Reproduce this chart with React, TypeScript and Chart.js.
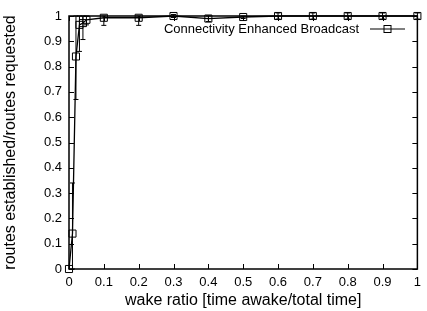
import React, { useEffect, useRef } from 'react';
import { Chart, registerables } from 'chart.js';

Chart.register(...registerables);

const wakeRatio = [0, 0.01, 0.02, 0.03, 0.04, 0.05, 0.1, 0.2, 0.3, 0.4, 0.5, 0.6, 0.7, 0.8, 0.9, 1];
const routesRatio = [0, 0.14, 0.84, 0.965, 0.972, 0.985, 0.993, 0.993, 1, 0.99, 0.996, 1, 1, 1, 1, 1];
const errLow = [0, 0.14, 0.17, 0.105, 0.065, 0.02, 0.03, 0.03, 0.006, 0.012, 0.006, 0.012, 0.012, 0.012, 0.012, 0.012];
const errHigh = [0, 0.2, 0.16, 0.035, 0.028, 0.015, 0.007, 0.007, 0.006, 0.01, 0.004, 0.012, 0.012, 0.012, 0.012, 0.012];

const xTicks = [0, 0.1, 0.2, 0.3, 0.4, 0.5, 0.6, 0.7, 0.8, 0.9, 1];
const xTickLabels = ['0', '0.1', '0.2', '0.3', '0.4', '0.5', '0.6', '0.7', '0.8', '0.9', '1'];
const yTicks = [0, 0.1, 0.2, 0.3, 0.4, 0.5, 0.6, 0.7, 0.8, 0.9, 1];
const yTickLabels = ['0', '0.1', '0.2', '0.3', '0.4', '0.5', '0.6', '0.7', '0.8', '0.9', '1'];

const seriesLabel = 'Connectivity Enhanced Broadcast';
const xTitle = 'wake ratio [time awake/total time]';
const yTitle = 'routes established/routes requested';

const FONT = '"Liberation Sans", Arial, Helvetica, sans-serif';

const frameAndTicks = {
  id: 'frameAndTicks',
  afterDraw(chart: any) {
    const { ctx, chartArea: a, scales } = chart;
    ctx.save();
    ctx.strokeStyle = '#000';
    ctx.lineWidth = 1;
    const tl = 5;
    ctx.beginPath();
    for (const v of xTicks) {
      const px = Math.round(scales.x.getPixelForValue(v)) + 0.5;
      ctx.moveTo(px, a.bottom);
      ctx.lineTo(px, a.bottom - tl);
      ctx.moveTo(px, a.top);
      ctx.lineTo(px, a.top + tl);
    }
    for (const v of yTicks) {
      const py = Math.round(scales.y.getPixelForValue(v)) + 0.5;
      ctx.moveTo(a.left, py);
      ctx.lineTo(a.left + tl, py);
      ctx.moveTo(a.right, py);
      ctx.lineTo(a.right - tl, py);
    }
    ctx.stroke();
    ctx.lineWidth = 1.5;
    ctx.strokeRect(a.left, a.top, a.right - a.left, a.bottom - a.top);
    ctx.restore();
  },
};

const errorBars = {
  id: 'errorBars',
  afterDatasetsDraw(chart: any) {
    const { ctx, scales } = chart;
    ctx.save();
    ctx.strokeStyle = '#000';
    ctx.lineWidth = 1;
    const cap = 2.5;
    ctx.beginPath();
    wakeRatio.forEach((x, i) => {
      const px = scales.x.getPixelForValue(x);
      const lo = scales.y.getPixelForValue(routesRatio[i] - errLow[i]);
      const hi = scales.y.getPixelForValue(routesRatio[i] + errHigh[i]);
      if (Math.abs(lo - hi) < 0.5) return;
      ctx.moveTo(px, lo);
      ctx.lineTo(px, hi);
      ctx.moveTo(px - cap, lo);
      ctx.lineTo(px + cap, lo);
      ctx.moveTo(px - cap, hi);
      ctx.lineTo(px + cap, hi);
    });
    ctx.stroke();
    ctx.restore();
  },
};

const keyBox = {
  id: 'keyBox',
  afterDraw(chart: any) {
    const { ctx } = chart;
    const label = chart.data.datasets[0].label;
    const y = 29;
    ctx.save();
    ctx.fillStyle = '#000';
    ctx.font = `13px ${FONT}`;
    ctx.textAlign = 'right';
    ctx.textBaseline = 'middle';
    ctx.fillText(label, 359, y);
    ctx.strokeStyle = '#000';
    ctx.lineWidth = 1.2;
    ctx.beginPath();
    ctx.moveTo(370, y);
    ctx.lineTo(405, y);
    ctx.stroke();
    ctx.lineWidth = 1;
    ctx.strokeRect(384, y - 3.5, 7, 7);
    ctx.restore();
  },
};

export default function App() {
  const ref = useRef<HTMLCanvasElement | null>(null);

  useEffect(() => {
    document.body.style.margin = '0';
    const canvas = ref.current;
    if (!canvas) return;
    const chart = new Chart(canvas, {
      type: 'line',
      data: {
        datasets: [
          {
            label: seriesLabel,
            data: wakeRatio.map((x, i) => ({ x, y: routesRatio[i] })),
            borderColor: '#000',
            borderWidth: 1.3,
            pointStyle: 'rect',
            pointRadius: 5,
            pointBorderWidth: 1,
            pointBorderColor: '#000',
            pointBackgroundColor: 'rgba(0,0,0,0)',
            tension: 0,
            fill: false,
            clip: false as any,
          },
        ],
      },
      options: {
        responsive: false,
        animation: false,
        devicePixelRatio: 1,
        layout: { padding: { left: 0, top: 16, right: 6, bottom: 0 } },
        plugins: { legend: { display: false }, tooltip: { enabled: false } },
        scales: {
          x: {
            type: 'linear',
            min: 0,
            max: 1,
            grid: { display: false, drawTicks: false },
            border: { display: false },
            afterBuildTicks: (s: any) => {
              s.ticks = xTicks.map((v) => ({ value: v }));
            },
            afterFit: (s: any) => {
              s.height = 42;
            },
            ticks: {
              callback: (_v: any, i: number) => xTickLabels[i],
              font: { family: FONT, size: 13 },
              color: '#000',
              padding: 6,
              maxRotation: 0,
              autoSkip: false,
            },
            title: {
              display: true,
              text: xTitle,
              font: { family: FONT, size: 16 },
              color: '#000',
              padding: { top: 0, bottom: 1 },
            },
          },
          y: {
            type: 'linear',
            min: 0,
            max: 1,
            grid: { display: false, drawTicks: false },
            border: { display: false },
            afterBuildTicks: (s: any) => {
              s.ticks = yTicks.map((v) => ({ value: v }));
            },
            afterFit: (s: any) => {
              s.width = 69;
            },
            ticks: {
              callback: (_v: any, i: number) => yTickLabels[i],
              font: { family: FONT, size: 13 },
              color: '#000',
              padding: 7,
              autoSkip: false,
            },
            title: {
              display: true,
              text: yTitle,
              font: { family: FONT, size: 16 },
              color: '#000',
              padding: { top: 1, bottom: 0 },
            },
          },
        },
      },
      plugins: [errorBars, frameAndTicks, keyBox],
    });
    return () => chart.destroy();
  }, []);

  return (
    <div style={{ position: 'fixed', left: 0, top: 0, width: 427, height: 311, background: '#fff' }}>
      <canvas ref={ref} width={427} height={311} />
    </div>
  );
}
